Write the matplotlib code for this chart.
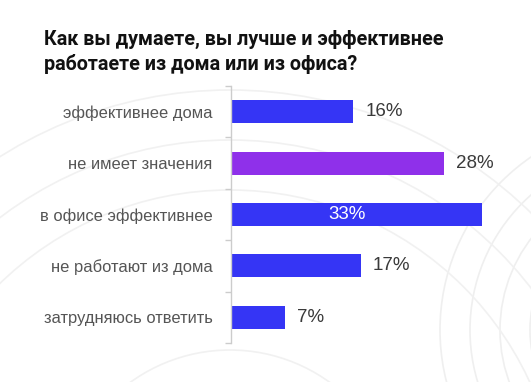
import matplotlib
matplotlib.use("Agg")
import matplotlib.pyplot as plt
from matplotlib.patches import Circle
import numpy as np

categories = ["эффективнее дома", "не имеет значения", "в офисе эффективнее",
              "не работают из дома", "затрудняюсь ответить"]
values = [16, 28, 33, 17, 7]
labels = ["16%", "28%", "33%", "17%", "7%"]
colors = ["#3535f5", "#8f30ea", "#3535f5", "#3535f5", "#3535f5"]
title = "Как вы думаете, вы лучше и эффективнее\nработаете из дома или из офиса?"

plt.rcParams['font.family'] = ['Liberation Sans', 'DejaVu Sans']

W, H = 531, 382
fig = plt.figure(figsize=(W / 100, H / 100), dpi=100)
fig.patch.set_facecolor("white")

# faint decorative arcs in the background
bg = fig.add_axes([0, 0, 1, 1], zorder=-5)
bg.set_xlim(0, W)
bg.set_ylim(H, 0)
bg.axis("off")
for r in [120, 150, 180, 210]:
    bg.add_patch(Circle((650, 330), r, fill=False, ec="#efefef", lw=1.2))
for r in [90, 130, 170, 330, 380, 430]:
    bg.add_patch(Circle((230, 520), r, fill=False, ec="#f1f1f1", lw=1.2))

fig.text(44 / W, 1 - 52 / H, title, fontsize=14.2, fontweight="bold",
         family=["Roboto", "DejaVu Sans"],
         color="#111111", ha="left", va="center", linespacing=1.3)

ax = fig.add_axes([232 / W, 1 - 343 / H, (490 - 232) / W, (343 - 86) / H])
ax.set_facecolor("none")
y = np.arange(len(categories))
ax.barh(y, values, height=0.45, color=colors, edgecolor="none")
ax.set_ylim(len(categories) - 0.5, -0.5)
ax.set_xlim(0, 34)

for i, (v, lab) in enumerate(zip(values, labels)):
    if v >= 30:
        ax.text(v * 0.46, i, lab, ha="center", va="center", fontsize=13.5,
                color="white")
    else:
        ax.text(v + 1.55, i, lab, ha="left", va="center", fontsize=13.5,
                color="#3a3a3a")

ax.set_yticks(y)
ax.set_yticklabels(categories)
ax.set_yticks(np.arange(-0.5, len(categories)), minor=True)
ax.tick_params(axis="y", which="major", length=0, pad=13,
               labelsize=11.9, labelcolor="#555555")
ax.tick_params(axis="y", which="minor", length=4, color="#cccccc", width=1)
ax.set_xticks([])
for s in ["top", "right", "bottom"]:
    ax.spines[s].set_visible(False)
ax.spines["left"].set_color("#cccccc")
ax.spines["left"].set_linewidth(1)
ax.spines["left"].set_position(("outward", 1))

fig.savefig("out.png", dpi=100, facecolor="white")
